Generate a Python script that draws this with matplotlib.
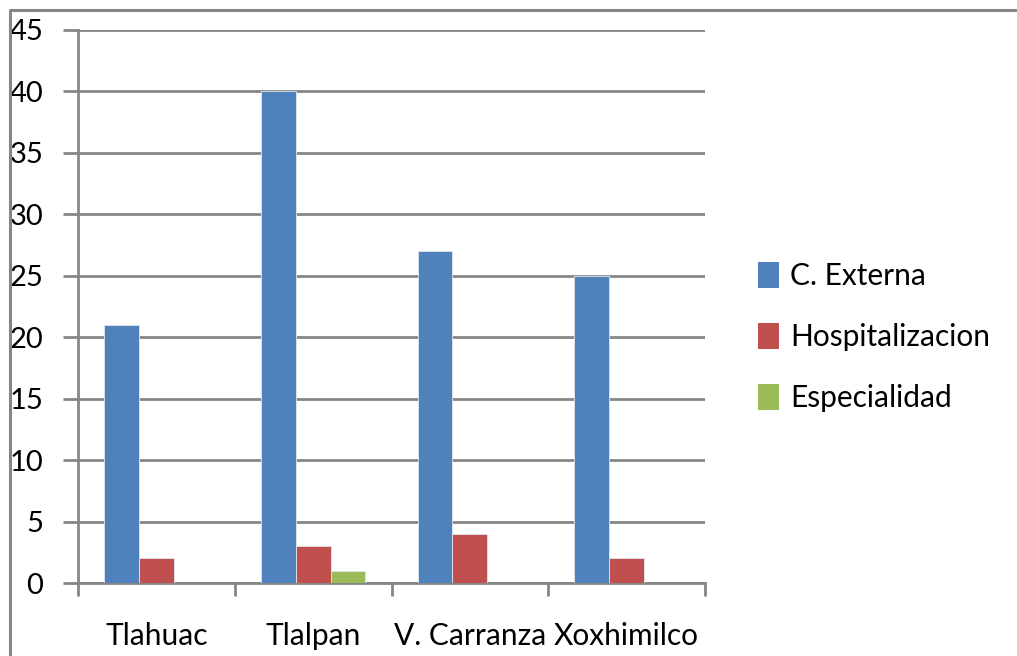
import matplotlib
matplotlib.use("Agg")
import matplotlib.pyplot as plt
from matplotlib.lines import Line2D
from matplotlib.patches import Patch
import numpy as np

categories = ["Tlahuac", "Tlalpan", "V. Carranza", "Xoxhimilco"]
series_names = ["C. Externa", "Hospitalizacion", "Especialidad"]
c_externa = [21, 40, 27, 25]
hospitalizacion = [2, 3, 4, 2]
especialidad = [0, 1, 0, 0]
y_ticks = [0, 5, 10, 15, 20, 25, 30, 35, 40, 45]

colors = ["#4F81BD", "#C0504D", "#9BBB59"]
grid_c = "#868686"
W, H = 1017, 656
plt.rcParams['font.family'] = ['Lato', 'DejaVu Sans']

fig = plt.figure(figsize=(W/100, H/100), dpi=100)
ax = fig.add_axes([78/W, 1-583/H, (705-78)/W, (583-30)/H])

x = np.arange(len(categories))
bw = 1/4.5
for i, (vals, name) in enumerate(zip([c_externa, hospitalizacion, especialidad], series_names)):
    ax.bar(x + (i-1)*bw, vals, width=bw, color=colors[i], edgecolor="#dfe6f0", linewidth=0.6, zorder=3, label=name)

ax.set_xlim(-0.5, len(categories)-0.5)
ax.set_ylim(0, 45)
ax.set_yticks(y_ticks)
ax.set_yticklabels([str(v) for v in y_ticks], fontsize=21)
ax.yaxis.grid(True, color=grid_c, linewidth=2, zorder=0)
ax.tick_params(axis='y', length=11, width=2, color=grid_c, pad=14)
ax.set_xticks(x)
ax.set_xticklabels(categories, fontsize=21.5)
ax.tick_params(axis='x', which='major', length=0, pad=28)
ax.set_xticks(np.arange(-0.5, len(categories), 1), minor=True)
ax.tick_params(axis='x', which='minor', length=9, width=2, color=grid_c)
for s in ["top", "right"]:
    ax.spines[s].set_visible(False)
for s in ["left", "bottom"]:
    ax.spines[s].set_color(grid_c)
    ax.spines[s].set_linewidth(2)

handles = [Patch(facecolor=colors[i], edgecolor='none') for i in range(3)]
fig.legend(handles, series_names, loc='center left', bbox_to_anchor=(731/W, 1-337/H),
           frameon=False, fontsize=21.5, handlelength=0.72, handleheight=0.95,
           labelspacing=1.1, handletextpad=0.35)

fig.add_artist(Line2D([10/W, 10/W, 1.0], [0, 1-10/H, 1-10/H], color=grid_c, linewidth=2.2,
                      transform=fig.transFigure))

fig.savefig("out.png", dpi=100)
